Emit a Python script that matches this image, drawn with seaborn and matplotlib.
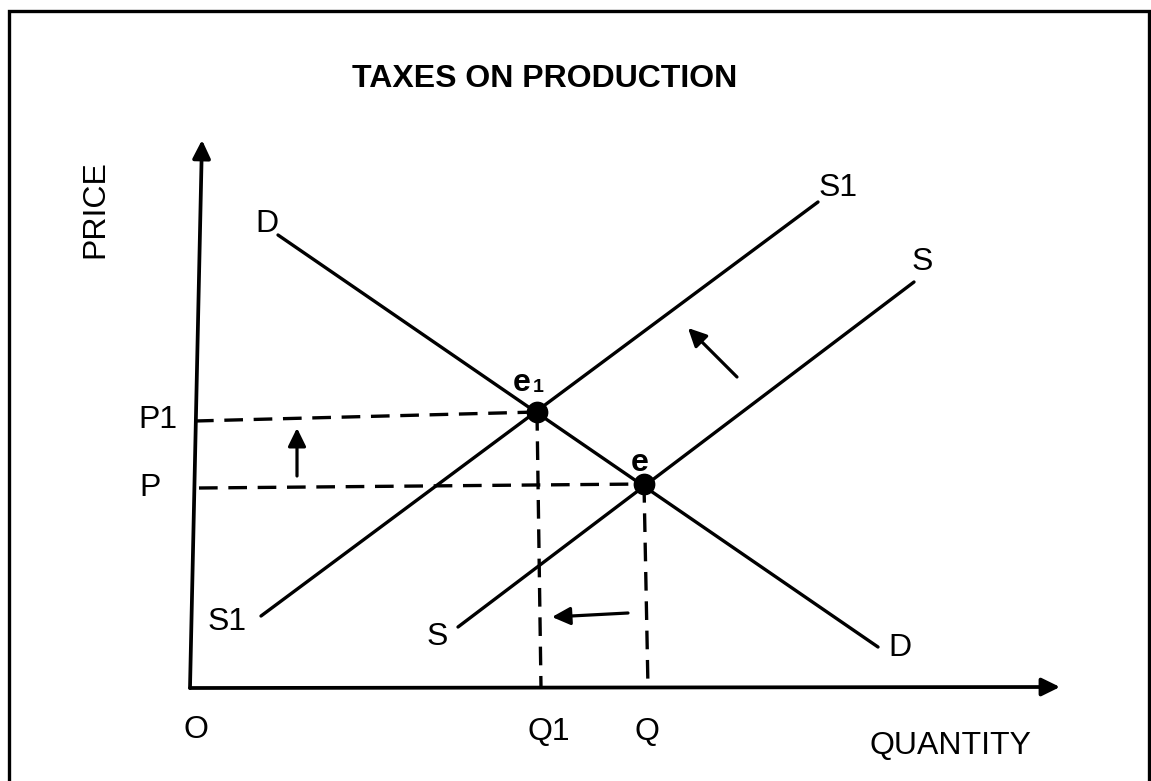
import matplotlib
matplotlib.use("Agg")
import matplotlib.pyplot as plt
import matplotlib.patches as mpatches
import seaborn as sns

# diagram units: quantity to the right of O, price above O
demand_q = [86, 686]
demand_p = [453, 41]
supply1_q = [69, 626]
supply1_p = [72, 486]
supply_q = [266, 722]
supply_p = [61, 406]

eq_q = [345, 452]       # e1, e
eq_p = [276, 204]

p1_line_q = [3, 345]
p1_line_p = [267, 276]
p_line_q = [7, 452]
p_line_p = [200, 204]
q1_line_q = [345, 349]
q1_line_p = [276, 0]
q_line_q = [452, 456]
q_line_p = [204, 0]

# shift arrows (tail, head)
shift_arrows = [((105, 212), (105, 260)),
                ((436, 75), (360, 71)),
                ((545, 311), (496, 360))]

axis_x = ((-2, 0), (868, 1))
axis_y = ((-2, 0), (10, 548))

labels = [("P1", -34, 268), ("P", -42, 200), ("O", 4, -42), ("Q1", 357, -44),
          ("Q", 455, -44), ("QUANTITY", 758, -58), ("D", 75, 464), ("D", 708, 40),
          ("S1", 646, 500), ("S", 730, 426), ("S1", 35, 66), ("S", 245, 51)]

sns.set_theme(style="white")
plt.rcParams['font.family'] = ['Liberation Sans', 'DejaVu Sans']
plt.rcParams['text.color'] = 'black'

fig = plt.figure(figsize=(11.51, 7.81), dpi=100)
ax = fig.add_axes([0, 0, 1, 1])
ax.set_xlim(-192, 959)
ax.set_ylim(-93, 688)
ax.axis('off')

dash = (0, (5.6, 3.2))
for xs, ys in [(p1_line_q, p1_line_p), (p_line_q, p_line_p),
               (q1_line_q, q1_line_p), (q_line_q, q_line_p)]:
    sns.lineplot(x=xs, y=ys, ax=ax, color='black', lw=2.4, linestyle=dash,
                 sort=False, estimator=None)

for xs, ys in [(demand_q, demand_p), (supply1_q, supply1_p), (supply_q, supply_p)]:
    sns.lineplot(x=xs, y=ys, ax=ax, color='black', lw=2.4, sort=False, estimator=None)

sns.scatterplot(x=eq_q, y=eq_p, ax=ax, color='black', s=210, edgecolor='black', zorder=5)

# axes with arrow heads
for (x0, y0), (x1, y1) in [axis_x, axis_y]:
    ax.annotate("", xy=(x1, y1), xytext=(x0, y0),
                arrowprops=dict(arrowstyle='-|>,head_length=0.55,head_width=0.27',
                                mutation_scale=20, lw=2.7, color='black',
                                shrinkA=0, shrinkB=0))

for (x0, y0), (x1, y1) in shift_arrows:
    ax.annotate("", xy=(x1, y1), xytext=(x0, y0),
                arrowprops=dict(arrowstyle='-|>,head_length=0.55,head_width=0.27',
                                mutation_scale=20, lw=2.3, color='black',
                                shrinkA=0, shrinkB=0))

for txt, x, y in labels:
    ax.text(x, y, txt, fontsize=23, ha='center', va='center', color='black')

ax.text(-97, 479, "PRICE", fontsize=23, rotation=90, ha='center', va='center')
ax.text(330, 305, "e", fontsize=23, fontweight='bold', ha='center', va='center')
ax.text(346, 300, "1", fontsize=14, fontweight='bold', ha='center', va='center')
ax.text(448, 225, "e", fontsize=23, fontweight='bold', ha='center', va='center')
ax.text(353, 609, "TAXES ON PRODUCTION", fontsize=23, fontweight='bold',
        ha='center', va='center', color='black')

fig.patches.append(mpatches.Rectangle((9 / 1151, -0.05), 1140 / 1151, 0.986 + 0.05,
                                      transform=fig.transFigure, fill=False,
                                      lw=2.4, ec='black'))

fig.savefig("out.png", dpi=100)
plt.close(fig)
